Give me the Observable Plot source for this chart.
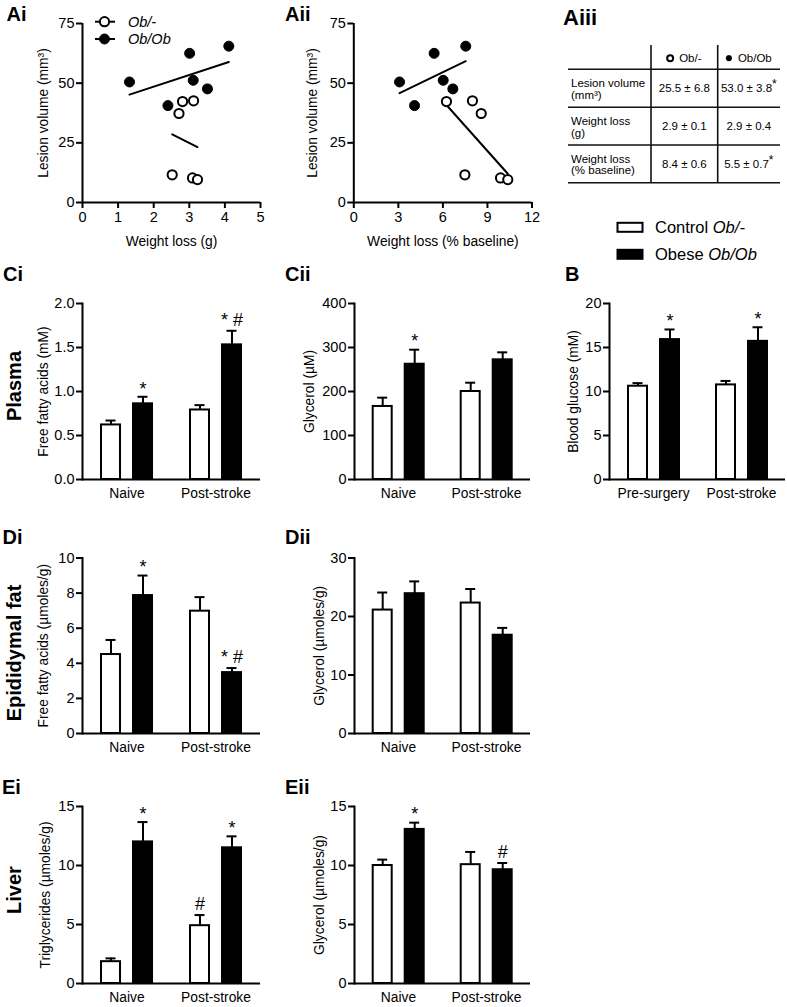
<!DOCTYPE html>
<html>
<head>
<meta charset="utf-8">
<script src="https://cdn.jsdelivr.net/npm/d3@7"></script>
<script src="https://cdn.jsdelivr.net/npm/@observablehq/plot@0.6"></script>
<style>
  html, body { margin: 0; padding: 0; background: #fff; }
  #fig { position: relative; width: 787px; height: 1007px; overflow: hidden; background: #fff; }
  #fig svg { position: absolute; max-width: none !important; }
</style>
</head>
<body>
<div id="fig"></div>
<script>
const FONT = '"Liberation Sans", Arial, Helvetica, sans-serif';

// ---------------- DATA ----------------
const series = ["Control Ob/-", "Obese Ob/Ob"];
const stateGroups = ["Naive", "Post-stroke"];
const glucoseGroups = ["Pre-surgery", "Post-stroke"];

// Panel A scatter: weight loss vs lesion volume
const obHetWeightLossG   = [2.81, 3.12, 2.71, 2.52, 3.09, 3.23];
const obHetWeightLossPct = [6.24, 7.99, 8.58, 7.48, 9.88, 10.37];
const obHetLesion        = [42.3, 42.6, 37.3, 11.6, 10.3, 9.6];
const obObWeightLossG    = [1.32, 2.40, 3.01, 3.11, 3.51, 4.11];
const obObWeightLossPct  = [3.08, 4.09, 5.41, 6.02, 6.67, 7.54];
const obObLesion         = [50.5, 40.6, 62.5, 51.2, 47.6, 65.5];
const lesionTicks = [0, 25, 50, 75];
const weightGTicks = [0, 1, 2, 3, 4, 5];
const weightPctTicks = [0, 3, 6, 9, 12];

// Panel Aiii table
const tableHeader = ["Ob/-", "Ob/Ob"];
const tableRowLabels = [["Lesion volume", "(mm³)"], ["Weight loss", "(g)"], ["Weight loss", "(% baseline)"]];
const tableObHet = ["25.5 ± 6.8", "2.9 ± 0.1", "8.4 ± 0.6"];
const tableObOb = ["53.0 ± 3.8", "2.9 ± 0.4", "5.5 ± 0.7"];
const tableObObSig = ["*", "", "*"];

// Bar panels: order = [group1 Control, group1 Obese, group2 Control, group2 Obese]
const ciMean = [0.62, 0.86, 0.79, 1.53];
const ciSem  = [0.05, 0.08, 0.055, 0.16];
const ciSig  = ["", "*", "", "* #"];
const ciTicks = [0, 0.5, 1.0, 1.5, 2.0];

const ciiMean = [166, 262, 200, 272];
const ciiSem  = [20, 33, 20, 17];
const ciiSig  = ["", "*", "", ""];
const ciiTicks = [0, 100, 200, 300, 400];

const bMean = [10.6, 15.9, 10.75, 15.7];
const bSem  = [0.35, 1.15, 0.45, 1.6];
const bSig  = ["", "*", "", "*"];
const bTicks = [0, 5, 10, 15, 20];

const diMean = [4.5, 7.86, 6.97, 3.47];
const diSem  = [0.83, 1.14, 0.8, 0.26];
const diSig  = ["", "*", "", "* #"];
const diTicks = [0, 2, 4, 6, 8, 10];

const diiMean = [21.1, 23.9, 22.3, 16.8];
const diiSem  = [3.0, 2.1, 2.4, 1.25];
const diiSig  = ["", "", "", ""];
const diiTicks = [0, 10, 20, 30];

const eiMean = [1.85, 12.0, 4.9, 11.5];
const eiSem  = [0.28, 1.68, 0.9, 0.97];
const eiSig  = ["", "*", "#", "*"];
const eiTicks = [0, 5, 10, 15];

const eiiMean = [10.0, 13.06, 10.07, 9.64];
const eiiSem  = [0.5, 0.57, 1.08, 0.57];
const eiiSig  = ["", "*", "", "#"];
const eiiTicks = [0, 5, 10, 15];

// ---------------- LAYOUT HELPERS ----------------
const fig = document.getElementById("fig");
function place(svg, left, top) {
  svg.style.left = left + "px";
  svg.style.top = top + "px";
  fig.appendChild(svg);
}
const FS = 13.8;      // category labels / axis titles
const TFS = 14.5;     // tick labels
const baseStyle = {fontFamily: FONT, fontSize: FS + "px", color: "black", background: "none", overflow: "visible"};

function barPanel(o) {
  const rows = o.groups.flatMap((g, gi) => series.map((s, si) => ({
    group: g, series: s, mean: o.mean[gi * 2 + si], sem: o.sem[gi * 2 + si], sig: o.sig[gi * 2 + si]
  })));
  const top = (d) => d.mean + d.sem;
  const svg = Plot.plot({
    width: o.width, height: o.height,
    marginLeft: o.x0 - o.left, marginRight: o.left + o.width - o.x1,
    marginTop: o.yTop - o.top, marginBottom: o.top + o.height - o.yBottom,
    style: baseStyle,
    fx: {domain: o.groups, padding: 0, label: null},
    x: {domain: series, paddingInner: 0.42, paddingOuter: 0.56, axis: null},
    y: {domain: o.yDomain},
    color: {domain: series, range: ["white", "black"]},
    marks: [
      Plot.ruleX(rows, {fx: "group", x: "series", y1: "mean", y2: top, stroke: "black", strokeWidth: 2}),
      Plot.tickY(rows, {fx: "group", x: "series", y: top, stroke: "black", strokeWidth: 2, insetLeft: 4.5, insetRight: 4.5}),
      Plot.barY(rows, {fx: "group", x: "series", y: "mean", fill: "series", stroke: "black", strokeWidth: 2}),
      Plot.text(rows.filter(d => d.sig && !d.sig.includes("#")), {fx: "group", x: "series", y: top, text: "sig", fontSize: 18, lineAnchor: "middle", dy: -8}),
      Plot.text(rows.filter(d => d.sig.includes("#")), {fx: "group", x: "series", y: top, text: "sig", fontSize: 18, lineAnchor: "middle", dy: -11}),
      Plot.ruleY([0], {stroke: "black", strokeWidth: 2}),
      Plot.frame({anchor: "left", facetAnchor: "left", stroke: "black", strokeWidth: 2}),
      Plot.axisY({ticks: o.yTicks, tickFormat: o.yFormat, tickSize: 6, tickPadding: 2, strokeWidth: 2, fontSize: TFS, label: null}),
      Plot.axisY({ticks: [], tickSize: 0, fontSize: FS,
        label: o.yLabel, labelAnchor: "center", labelOffset: o.labelOffset, labelArrow: "none"}),
      Plot.axisFx({anchor: "bottom", tickSize: 0, tickPadding: 9, label: null, fontSize: FS})
    ]
  });
  place(svg, o.left, o.top);
}

function scatterPanel(o) {
  const het = o.hetX.map((x, i) => ({x, y: o.hetY[i]}));
  const ob = o.obX.map((x, i) => ({x, y: o.obY[i]}));
  const svg = Plot.plot({
    width: o.width, height: o.height,
    marginLeft: o.x0 - o.left, marginRight: o.left + o.width - o.x1,
    marginTop: o.yTop - o.top, marginBottom: o.top + o.height - o.yBottom,
    style: baseStyle,
    x: {domain: o.xDomain},
    y: {domain: [0, 75]},
    marks: [
      Plot.ruleY([0], {stroke: "black", strokeWidth: 2}),
      Plot.ruleX([0], {stroke: "black", strokeWidth: 2}),
      Plot.axisX({ticks: o.xTicks, tickFormat: d3.format("d"), tickSize: 6, tickPadding: 3, strokeWidth: 2, fontSize: TFS, label: null}),
      Plot.axisX({ticks: [], tickSize: 0, fontSize: FS,
        label: o.xLabel, labelAnchor: "center", labelOffset: 43, labelArrow: "none"}),
      Plot.axisY({ticks: lesionTicks, tickFormat: d3.format("d"), tickSize: 6, tickPadding: 2, strokeWidth: 2, fontSize: TFS, label: null}),
      Plot.axisY({ticks: [], tickSize: 0, fontSize: FS,
        label: "Lesion volume (mm³)", labelAnchor: "center", labelOffset: o.labelOffset, labelArrow: "none"}),
      Plot.linearRegressionY(ob, {x: "x", y: "y", ci: 0, stroke: "black", strokeWidth: 2}),
      Plot.linearRegressionY(het, {x: "x", y: "y", ci: 0, stroke: "black", strokeWidth: 2}),
      Plot.dot(ob, {x: "x", y: "y", r: 5, fill: "black", stroke: "black", strokeWidth: 1}),
      Plot.dot(het, {x: "x", y: "y", r: 4.6, fill: "white", stroke: "black", strokeWidth: 2})
    ]
  });
  place(svg, o.left, o.top);
}

// ---------------- PANELS ----------------
scatterPanel({left: 0, top: 0, width: 275, height: 255, x0: 82, x1: 260, yTop: 23, yBottom: 202,
  xDomain: [0, 5], xTicks: weightGTicks, xLabel: "Weight loss (g)",
  hetX: obHetWeightLossG, hetY: obHetLesion, obX: obObWeightLossG, obY: obObLesion, labelOffset: 44});
scatterPanel({left: 270, top: 0, width: 275, height: 255, x0: 353.3, x1: 531.5, yTop: 23, yBottom: 202,
  xDomain: [0, 12], xTicks: weightPctTicks, xLabel: "Weight loss (% baseline)",
  hetX: obHetWeightLossPct, hetY: obHetLesion, obX: obObWeightLossPct, obY: obObLesion, labelOffset: 47});

const f1 = d3.format(".1f");
barPanel({left: 0, top: 285, width: 275, height: 225, x0: 82, x1: 260, yTop: 303, yBottom: 479,
  groups: stateGroups, mean: ciMean, sem: ciSem, sig: ciSig, yDomain: [0, 2], yTicks: ciTicks, yFormat: f1,
  yLabel: "Free fatty acids (mM)", labelOffset: 44});
barPanel({left: 270, top: 285, width: 275, height: 225, x0: 353.3, x1: 530, yTop: 303, yBottom: 479,
  groups: stateGroups, mean: ciiMean, sem: ciiSem, sig: ciiSig, yDomain: [0, 400], yTicks: ciiTicks,
  yLabel: "Glycerol (µM)", labelOffset: 50});
barPanel({left: 545, top: 285, width: 242, height: 225, x0: 609, x1: 785, yTop: 303, yBottom: 479,
  groups: glucoseGroups, mean: bMean, sem: bSem, sig: bSig, yDomain: [0, 20], yTicks: bTicks,
  yLabel: "Blood glucose (mM)", labelOffset: 41});
barPanel({left: 0, top: 545, width: 275, height: 220, x0: 82, x1: 260, yTop: 557.5, yBottom: 733,
  groups: stateGroups, mean: diMean, sem: diSem, sig: diSig, yDomain: [0, 10], yTicks: diTicks,
  yLabel: "Free fatty acids (µmoles/g)", labelOffset: 44});
barPanel({left: 270, top: 545, width: 275, height: 220, x0: 353.3, x1: 530, yTop: 557.5, yBottom: 733,
  groups: stateGroups, mean: diiMean, sem: diiSem, sig: diiSig, yDomain: [0, 30], yTicks: diiTicks,
  yLabel: "Glycerol (µmoles/g)", labelOffset: 40});
barPanel({left: 0, top: 795, width: 275, height: 212, x0: 82, x1: 260, yTop: 806, yBottom: 983,
  groups: stateGroups, mean: eiMean, sem: eiSem, sig: eiSig, yDomain: [0, 15], yTicks: eiTicks,
  yLabel: "Triglycerides (µmoles/g)", labelOffset: 42});
barPanel({left: 270, top: 795, width: 275, height: 212, x0: 353.3, x1: 530, yTop: 806, yBottom: 983,
  groups: stateGroups, mean: eiiMean, sem: eiiSem, sig: eiiSig, yDomain: [0, 15], yTicks: eiiTicks,
  yLabel: "Glycerol (µmoles/g)", labelOffset: 40});

// ---------------- OVERLAY: labels, legends, table ----------------
const ovNode = document.createElementNS("http://www.w3.org/2000/svg", "svg");
fig.appendChild(ovNode);
const ov = d3.select(ovNode).attr("width", 787).attr("height", 1007)
  .style("left", "0px").style("top", "0px").style("font-family", FONT).style("pointer-events", "none");

const panelLabels = [
  ["Ai", 6.5, 21, 20], ["Aii", 285, 21, 20], ["Aiii", 563, 25, 22],
  ["Ci", 3, 280.5, 20], ["Cii", 285, 280.5, 20], ["B", 565, 280.5, 20],
  ["Di", 2.5, 544, 20], ["Dii", 285, 544, 20],
  ["Ei", 2, 794, 20], ["Eii", 285, 794, 20]
];
panelLabels.forEach(([t, x, y, fs]) => ov.append("text").attr("x", x).attr("y", y)
  .attr("font-size", fs).attr("font-weight", "bold").text(t));

const rowLabels = [["Plasma", 13.3, 386], ["Epididymal fat", 13.3, 653], ["Liver", 13.3, 890]];
rowLabels.forEach(([t, cx, cy]) => ov.append("text")
  .attr("transform", `translate(${cx + 7.2},${cy}) rotate(-90)`)
  .attr("text-anchor", "middle").attr("font-size", 20).attr("font-weight", "bold").text(t));

// Ai legend
const aLegend = [["Ob/-", "white", 21.7], ["Ob/Ob", "black", 39]];
aLegend.forEach(([t, fill, y]) => {
  ov.append("line").attr("x1", 95).attr("x2", 115).attr("y1", y).attr("y2", y).attr("stroke", "black").attr("stroke-width", 2);
  ov.append("circle").attr("cx", 104.5).attr("cy", y).attr("r", fill === "white" ? 4.6 : 5)
    .attr("fill", fill).attr("stroke", "black").attr("stroke-width", fill === "white" ? 2 : 1);
  ov.append("text").attr("x", 128).attr("y", y + 5.2).attr("font-size", 14.5).attr("font-style", "italic").text(t);
});

// Bar legend
const barLegend = [["Control ", "Ob/-", "white", 227.3], ["Obese ", "Ob/Ob", "black", 254.3]];
barLegend.forEach(([a, b, fill, y]) => {
  ov.append("rect").attr("x", 617.5).attr("y", y - 4.5).attr("width", 25).attr("height", 9)
    .attr("fill", fill).attr("stroke", "black").attr("stroke-width", 2);
  const t = ov.append("text").attr("x", 655).attr("y", y + 5.9).attr("font-size", 16.5);
  t.append("tspan").text(a);
  t.append("tspan").attr("font-style", "italic").text(b);
});

// Aiii table
const tX = [568, 651, 717.7, 780];
const tY = [45, 69.3, 107.3, 145, 182.7];
const tg = ov.append("g");
tY.slice(1).forEach(y => tg.append("line").attr("x1", tX[0]).attr("x2", tX[3]).attr("y1", y).attr("y2", y)
  .attr("stroke", "#111").attr("stroke-width", 1.6));
[tX[1], tX[2]].forEach(x => tg.append("line").attr("x1", x).attr("x2", x).attr("y1", tY[0]).attr("y2", tY[4])
  .attr("stroke", "#111").attr("stroke-width", 1.6));
tableHeader.forEach((h, i) => {
  const cx = (tX[i + 1] + tX[i + 2]) / 2;
  const cy = (tY[0] + tY[1]) / 2 + 1;
  const txt = tg.append("text").attr("x", cx + 6).attr("y", cy + 4).attr("font-size", 11.5).attr("text-anchor", "middle").text(h);
  const w = txt.node().getComputedTextLength();
  tg.append("circle").attr("cx", cx + 6 - w / 2 - 9).attr("cy", cy).attr("r", i === 0 ? 3 : 2.8)
    .attr("fill", i === 0 ? "white" : "black").attr("stroke", "black").attr("stroke-width", i === 0 ? 2 : 0.5);
});
tableRowLabels.forEach((lines, r) => {
  const cy = (tY[r + 1] + tY[r + 2]) / 2;
  lines.forEach((l, k) => tg.append("text").attr("x", 571).attr("y", cy - 1 + k * 11.5).attr("font-size", 11.5).text(l));
  tg.append("text").attr("x", (tX[1] + tX[2]) / 2).attr("y", cy + 4).attr("font-size", 11.5)
    .attr("text-anchor", "middle").text(tableObHet[r]);
  const t2 = tg.append("text").attr("x", (tX[2] + tX[3]) / 2).attr("y", cy + 4).attr("font-size", 11.5).attr("text-anchor", "middle");
  t2.append("tspan").text(tableObOb[r]);
  if (tableObObSig[r]) t2.append("tspan").attr("dy", -4).attr("font-size", 12).text(tableObObSig[r]);
});
</script>
</body>
</html>
